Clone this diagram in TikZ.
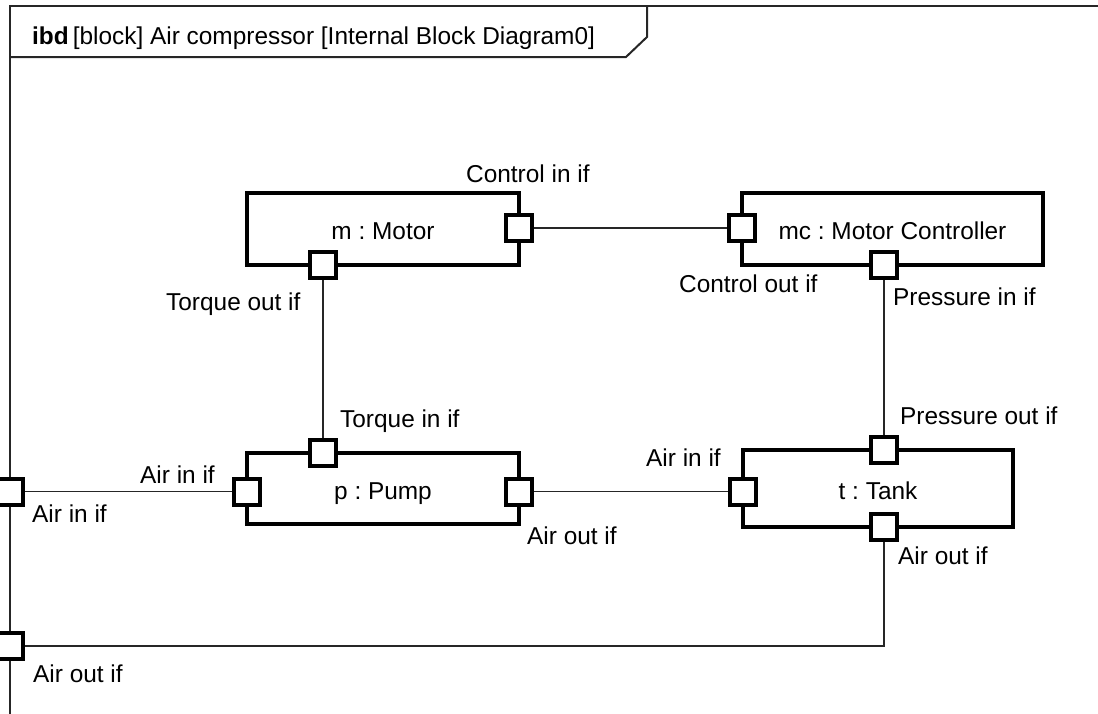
\documentclass[tikz,border=0pt]{standalone}
\usepackage{fontspec}
\setmainfont{Liberation Sans}
\usepackage{tikz}
\usetikzlibrary{positioning,calc}
\frenchspacing

\begin{document}
\begin{tikzpicture}[
        x=1pt, y=-1pt,
        every node/.style={font=\fontsize{24.4pt}{29pt}\selectfont},
        part/.style={rectangle, draw=black, line width=4pt, fill=white, align=center, inner sep=0pt, text height=21.5pt, text depth=0pt},
        port/.style={rectangle, draw=black, line width=4pt, fill=white, minimum size=26pt, inner sep=0pt},
        wire/.style={draw=black!85, line width=1.6pt},
        frame/.style={draw=black!85, line width=2pt},
        lbl/.style={anchor=base west, inner sep=0pt}
    ]
        \useasboundingbox (0,0) rectangle (1098,713);

        \draw[frame] (10,720) -- (10,6) -- (1110,6);
        \draw[frame] (10,57) -- (626,57) -- (647,37) -- (647,6);
        \node[lbl] (title) at (32,44) {\textbf{ibd}\,[block] Air compressor [Internal Block Diagram0]};

        \node[part, minimum width=272pt, minimum height=72pt] (motor) at (383,229) {m : Motor};
        \node[part, minimum width=301pt, minimum height=72pt] (ctrl) at (892.5,229) {mc : Motor Controller};
        \node[part, minimum width=272pt, minimum height=71pt] (pump) at (383,488.5) {p : Pump};
        \node[part, minimum width=270pt, minimum height=77pt] (tank) at (878,488.5) {t : Tank};

        \node[port] (mR) at (519,228) {};
        \node[port] (mB) at (323,265) {};
        \node[port] (cL) at (742,228) {};
        \node[port] (cB) at (884,265) {};
        \node[port] (pT) at (323,452.5) {};
        \node[port] (pL) at (247,491.5) {};
        \node[port] (pR) at (519,491.5) {};
        \node[port] (tT) at (884,450) {};
        \node[port] (tL) at (743,491.5) {};
        \node[port] (tB) at (884,527) {};
        \node[port] (fIn) at (10,491.5) {};
        \node[port] (fOut) at (10,646) {};

        \draw[wire] (mR) -- (cL);
        \draw[wire] (mB) -- (pT);
        \draw[wire] (cB) -- (tT);
        \draw[wire] (fIn) -- (pL);
        \draw[wire] (pR) -- (tL);
        \draw[wire] (tB) |- (fOut);

        \node[lbl] (lCin) at (466,182.5) {Control in if};
        \node[lbl] (lCout) at (679,292) {Control out if};
        \node[lbl] (lTout) at (166,310) {Torque out if};
        \node[lbl] (lPin) at (893,305.5) {Pressure in if};
        \node[lbl] (lTin) at (340,427.5) {Torque in if};
        \node[lbl] (lPout) at (900,424.5) {Pressure out if};
        \node[lbl] (lPAin) at (140,483.5) {Air in if};
        \node[lbl] (lFAin) at (32,522) {Air in if};
        \node[lbl] (lPAout) at (527,544) {Air out if};
        \node[lbl] (lTAin) at (646,466) {Air in if};
        \node[lbl] (lTAout) at (898,564) {Air out if};
        \node[lbl] (lFAout) at (33,682) {Air out if};
    \end{tikzpicture}
\end{document}
